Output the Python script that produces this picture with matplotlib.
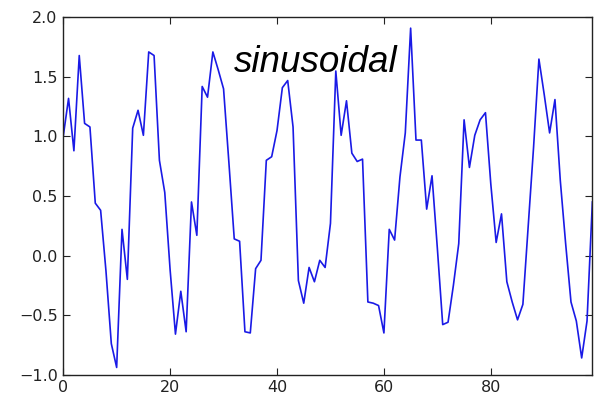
import matplotlib
matplotlib.use("Agg")
import matplotlib.pyplot as plt

x_values = list(range(100))
y_values = [
    1.00, 1.32, 0.88, 1.68, 1.11, 1.08, 0.44, 0.38, -0.13, -0.74,
    -0.94, 0.22, -0.20, 1.07, 1.22, 1.01, 1.71, 1.68, 0.80, 0.53,
    -0.12, -0.66, -0.30, -0.64, 0.45, 0.17, 1.42, 1.33, 1.71, 1.56,
    1.40, 0.78, 0.14, 0.12, -0.64, -0.65, -0.11, -0.04, 0.80, 0.83,
    1.05, 1.41, 1.47, 1.08, -0.21, -0.40, -0.10, -0.22, -0.04, -0.10,
    0.27, 1.55, 1.01, 1.30, 0.86, 0.79, 0.81, -0.39, -0.40, -0.42,
    -0.65, 0.22, 0.13, 0.66, 1.03, 1.91, 0.97, 0.97, 0.39, 0.67,
    0.06, -0.58, -0.56, -0.25, 0.10, 1.14, 0.74, 1.01, 1.14, 1.20,
    0.60, 0.11, 0.35, -0.22, -0.39, -0.54, -0.41, 0.25, 0.91, 1.65,
    1.35, 1.03, 1.31, 0.63, 0.10, -0.39, -0.55, -0.86, -0.55, 0.45,
]
x_ticks = [0, 20, 40, 60, 80]
y_ticks = [-1.0, -0.5, 0.0, 0.5, 1.0, 1.5, 2.0]
label_text = "sinusoidal"

fig = plt.figure(figsize=(6.02, 3.96), dpi=100)
ax = fig.add_axes([0.105, 0.054, 0.879, 0.902])
ax.plot(x_values, y_values, color="#1a1ae6", linewidth=1.2)
ax.set_xlim(0, 99)
ax.set_ylim(-1.0, 2.0)
ax.set_xticks(x_ticks)
ax.set_yticks(y_ticks)
ax.tick_params(direction="in", top=True, right=True, length=5, width=0.8,
               labelsize=11.5, colors="#222222", pad=4)
for s in ax.spines.values():
    s.set_color("#222222")
    s.set_linewidth(1.0)
ax.text(32.0, 1.54, label_text, fontsize=26.5, fontstyle="italic",
        family=["Liberation Sans", "DejaVu Sans"], va="baseline", ha="left")
fig.savefig("out.png", dpi=100)
